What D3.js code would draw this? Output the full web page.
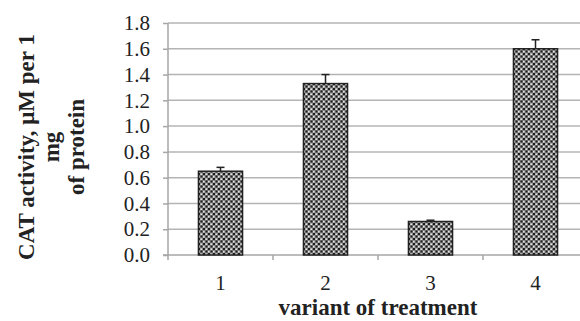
<!DOCTYPE html>
<html>
<head>
<meta charset="utf-8">
<script src="https://d3js.org/d3.v7.min.js"></script>
<style>
  body { margin: 0; background: #fff; }
  svg { display: block; font-family: "Liberation Serif", "Times New Roman", serif; }
</style>
</head>
<body>
<div id="chart"></div>
<script>
var svgWidth = 580;
var svgHeight = 321;

// data
var variants = ["1", "2", "3", "4"];
var activity = [0.65, 1.33, 0.26, 1.60];
var errors = [0.03, 0.07, 0.01, 0.07];
var yTicks = [0, 0.2, 0.4, 0.6, 0.8, 1.0, 1.2, 1.4, 1.6, 1.8];

var margin = { top: 23, left: 168 };
var width = 420;   // plot runs past the right edge, like the original crop
var height = 232;

var svg = d3.select("#chart")
  .append("svg")
  .attr("width", svgWidth)
  .attr("height", svgHeight);

// bar fill pattern
var defs = svg.append("defs");
var pat = defs.append("pattern")
  .attr("id", "dots")
  .attr("width", 5)
  .attr("height", 5)
  .attr("patternUnits", "userSpaceOnUse");
pat.append("rect").attr("width", 5).attr("height", 5).attr("fill", "#8a8a8a");
pat.append("rect").attr("x", 0).attr("y", 0).attr("width", 2).attr("height", 2).attr("fill", "#1e1e1e");
pat.append("rect").attr("x", 2.5).attr("y", 2.5).attr("width", 2).attr("height", 2).attr("fill", "#1e1e1e");
pat.append("rect").attr("x", 2.5).attr("y", 0.5).attr("width", 1.5).attr("height", 1.5).attr("fill", "#e8e8e8");
pat.append("rect").attr("x", 0).attr("y", 3).attr("width", 1.5).attr("height", 1.5).attr("fill", "#e8e8e8");

var chartGroup = svg.append("g")
  .attr("transform", `translate(${margin.left}, ${margin.top})`);

var xScale = d3.scaleBand()
  .domain(variants)
  .range([0, width])
  .paddingInner(0.58)
  .paddingOuter(0.29);

var yScale = d3.scaleLinear()
  .domain([0, 1.8])
  .range([height, 0]);

// gridlines
chartGroup.append("g")
  .selectAll("line")
  .data(yTicks.slice(1))
  .enter()
  .append("line")
  .attr("x1", 0)
  .attr("x2", width)
  .attr("y1", d => yScale(d))
  .attr("y2", d => yScale(d))
  .attr("stroke", "#b4b4b4")
  .attr("stroke-width", 1.5);

// y axis
var yAxis = d3.axisLeft(yScale)
  .tickValues(yTicks)
  .tickFormat(d3.format(".1f"))
  .tickSize(5)
  .tickPadding(13);
var gy = chartGroup.append("g")
  .call(yAxis)
  .attr("font-family", "Liberation Serif")
  .attr("font-size", 21);
gy.select(".domain").remove();
gy.selectAll(".tick line").attr("stroke", "#a6a6a6").attr("stroke-width", 1.5);
gy.selectAll("text").attr("fill", "#222");
chartGroup.append("line")
  .attr("x1", 0).attr("x2", 0)
  .attr("y1", 0).attr("y2", height + 5)
  .attr("stroke", "#a6a6a6").attr("stroke-width", 1.5);

// x axis
var xAxis = d3.axisBottom(xScale).tickSize(0).tickPadding(20);
var gx = chartGroup.append("g")
  .attr("transform", `translate(0, ${height})`)
  .call(xAxis)
  .attr("font-family", "Liberation Serif")
  .attr("font-size", 21);
gx.select(".domain").remove();
gx.selectAll("text").attr("fill", "#222");
chartGroup.append("line")
  .attr("x1", -5).attr("x2", width)
  .attr("y1", height).attr("y2", height)
  .attr("stroke", "#a6a6a6").attr("stroke-width", 1.5);
// category separator ticks
var step = xScale.step();
chartGroup.append("g")
  .selectAll("line")
  .data(variants.slice(1))
  .enter()
  .append("line")
  .attr("x1", d => xScale(d) - xScale.paddingInner() * step / 2)
  .attr("x2", d => xScale(d) - xScale.paddingInner() * step / 2)
  .attr("y1", height)
  .attr("y2", height + 5)
  .attr("stroke", "#a6a6a6")
  .attr("stroke-width", 1.5);

// bars
chartGroup.selectAll(".bar")
  .data(activity)
  .enter()
  .append("rect")
  .attr("class", "bar")
  .attr("x", (d, i) => xScale(variants[i]))
  .attr("y", d => yScale(d))
  .attr("width", xScale.bandwidth())
  .attr("height", d => height - yScale(d))
  .attr("fill", "url(#dots)")
  .attr("stroke", "#222")
  .attr("stroke-width", 1.5);

// error bars (upper only)
var eb = chartGroup.append("g").selectAll("g")
  .data(activity)
  .enter()
  .append("g");
eb.append("line")
  .attr("x1", (d, i) => xScale(variants[i]) + xScale.bandwidth() / 2)
  .attr("x2", (d, i) => xScale(variants[i]) + xScale.bandwidth() / 2)
  .attr("y1", d => yScale(d))
  .attr("y2", (d, i) => yScale(d + errors[i]))
  .attr("stroke", "#222")
  .attr("stroke-width", 1.5);
eb.append("line")
  .attr("x1", (d, i) => xScale(variants[i]) + xScale.bandwidth() / 2 - 4)
  .attr("x2", (d, i) => xScale(variants[i]) + xScale.bandwidth() / 2 + 4)
  .attr("y1", (d, i) => yScale(d + errors[i]))
  .attr("y2", (d, i) => yScale(d + errors[i]))
  .attr("stroke", "#222")
  .attr("stroke-width", 1.5);

// axis titles
svg.append("text")
  .attr("x", 378)
  .attr("y", 315)
  .attr("text-anchor", "middle")
  .attr("font-size", "23px")
  .attr("font-weight", "bold")
  .attr("fill", "#222")
  .text("variant of treatment");

var yTitle = svg.append("text")
  .attr("transform", "translate(33.5, 147) rotate(-90)")
  .attr("text-anchor", "middle")
  .attr("font-size", "23px")
  .attr("font-weight", "bold")
  .attr("fill", "#222");
["CAT activity, \u03bcM per 1", "mg", "of protein"].forEach(function(t, i) {
  yTitle.append("tspan")
    .attr("x", 0)
    .attr("dy", i === 0 ? 0 : 25)
    .text(t);
});
</script>
</body>
</html>
